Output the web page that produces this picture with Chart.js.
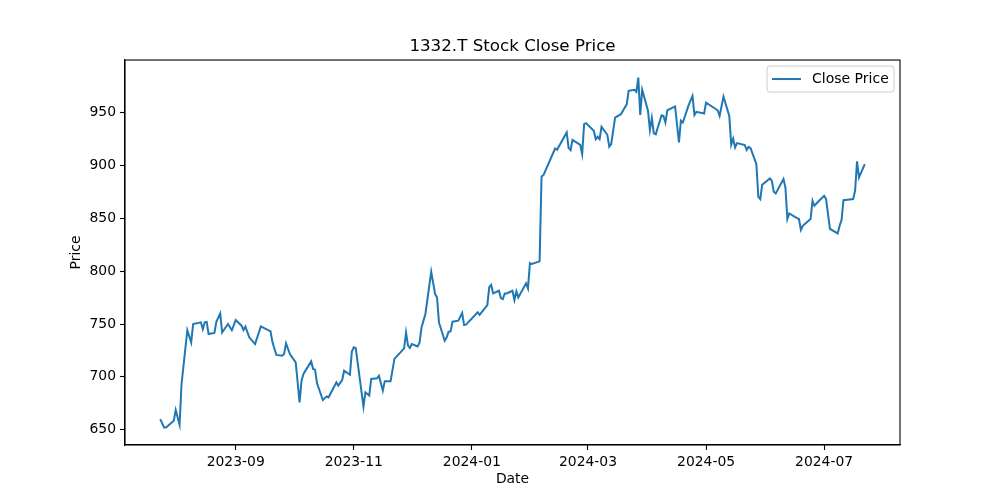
<!DOCTYPE html>
<html>
<head>
<meta charset="utf-8">
<script src="https://cdn.jsdelivr.net/npm/chart.js@4"></script>
<style>
html,body{margin:0;padding:0;background:#fff;}
#wrap{width:1000px;height:500px;}
</style>
</head>
<body>
<div id="wrap"><canvas id="c" width="1000" height="500"></canvas></div>
<script>
const dates = [
'2023-07-24','2023-07-26','2023-07-27','2023-07-31','2023-08-01','2023-08-03','2023-08-04','2023-08-07','2023-08-09','2023-08-10',
'2023-08-14','2023-08-15','2023-08-16','2023-08-17','2023-08-18','2023-08-21','2023-08-22','2023-08-24','2023-08-25','2023-08-28',
'2023-08-30','2023-09-01','2023-09-04','2023-09-05','2023-09-06','2023-09-08','2023-09-11','2023-09-14','2023-09-19','2023-09-20',
'2023-09-22','2023-09-25','2023-09-26','2023-09-27','2023-09-29','2023-10-02','2023-10-04','2023-10-05','2023-10-06','2023-10-10',
'2023-10-11','2023-10-12','2023-10-13','2023-10-16','2023-10-18','2023-10-19','2023-10-23','2023-10-24','2023-10-26','2023-10-27',
'2023-10-30','2023-10-31','2023-11-01','2023-11-02','2023-11-06','2023-11-07','2023-11-09','2023-11-10','2023-11-13','2023-11-14',
'2023-11-16','2023-11-17','2023-11-20','2023-11-22','2023-11-27','2023-11-28','2023-11-29','2023-11-30','2023-12-01','2023-12-04',
'2023-12-05','2023-12-06','2023-12-08','2023-12-11','2023-12-13','2023-12-14','2023-12-15','2023-12-18','2023-12-19','2023-12-20',
'2023-12-21','2023-12-22','2023-12-25','2023-12-27','2023-12-28','2023-12-29','2024-01-04','2024-01-05','2024-01-09','2024-01-10',
'2024-01-11','2024-01-12','2024-01-15','2024-01-16','2024-01-17','2024-01-18','2024-01-19','2024-01-22','2024-01-23','2024-01-24',
'2024-01-25','2024-01-29','2024-01-30','2024-01-31','2024-02-01','2024-02-05','2024-02-06','2024-02-07','2024-02-13','2024-02-14',
'2024-02-19','2024-02-20','2024-02-21','2024-02-22','2024-02-26','2024-02-27','2024-02-28','2024-02-29','2024-03-04','2024-03-05',
'2024-03-06','2024-03-07','2024-03-08','2024-03-11','2024-03-12','2024-03-13','2024-03-15','2024-03-18','2024-03-21','2024-03-22',
'2024-03-25','2024-03-26','2024-03-27','2024-03-28','2024-03-29','2024-04-01','2024-04-02','2024-04-03','2024-04-04','2024-04-05',
'2024-04-08','2024-04-09','2024-04-10','2024-04-11','2024-04-15','2024-04-17','2024-04-18','2024-04-19','2024-04-22','2024-04-24',
'2024-04-25','2024-04-26','2024-04-30','2024-05-01','2024-05-07','2024-05-08','2024-05-10','2024-05-13','2024-05-14','2024-05-15',
'2024-05-16','2024-05-17','2024-05-21','2024-05-22','2024-05-23','2024-05-24','2024-05-27','2024-05-28','2024-05-29','2024-05-30',
'2024-06-03','2024-06-04','2024-06-05','2024-06-06','2024-06-10','2024-06-11','2024-06-12','2024-06-13','2024-06-17','2024-06-18',
'2024-06-19','2024-06-20','2024-06-24','2024-06-25','2024-06-26','2024-06-28','2024-07-01','2024-07-02','2024-07-04','2024-07-08',
'2024-07-09','2024-07-10','2024-07-11','2024-07-12','2024-07-16','2024-07-17','2024-07-18','2024-07-19','2024-07-22'
];
const closePrice = [
660,652,652,658.5,668.6,654.7,693,744,732.6,750,
751.6,745,751.6,752,740.5,741.5,752,760,742,750,
744,753.8,748.4,744.3,747.5,737.4,731,747.8,743,732.6,
720.7,720,721.6,731.7,721.6,713.7,675.8,696.4,702.7,714.6,
707.4,706.8,693.8,678,681.5,680.6,694.8,691.6,697,705.8,
702,724,727.9,727.3,671.8,685.3,682.2,698,698.6,701,
687,695.7,695.7,717,727,742,729.5,727.3,731,728.8,
732.6,746.8,759.5,799.5,778.4,775.2,751.5,734.2,737.3,742.7,
743,752.2,753.2,760.4,749,749.4,761,758.6,768,785,
787,779,781.5,774.6,773.6,779,779,781.5,772.7,781,
775.2,788.5,783.7,807.7,806.8,809.3,889.7,891,916.2,915,
931.4,916.6,914.7,924.4,919.7,910.9,939.3,940.2,933,925,
927.3,925,936.7,929.2,917.8,920.3,945.5,948.7,958,970.8,
971.8,969.9,983.4,948,971.8,951.9,933.6,945,930.6,929.7,
947.7,947,940.8,952.4,956,922,942.5,940.8,957.2,966,
948,950.9,949.3,959.7,952.4,947,965.4,947,919.7,925.6,
917.2,921.3,919.4,914.7,917.8,916.6,901.4,870.5,868.3,881.8,
887.8,885.6,875.2,873.6,887.2,879.3,849.4,854.7,850.3,849.4,
839,843,849.4,866.7,862,866,871.4,868.3,840,835.8,
843,848.4,867.3,867.5,868.3,876.2,904,888.8,901.4
];
const xTickLabels = ['2023-09','2023-11','2024-01','2024-03','2024-05','2024-07'];
const yTickValues = [650,700,750,800,850,900,950];
const seriesLabel = 'Close Price';
const chartTitle = '1332.T Stock Close Price';

const toDay = s => { const p = s.split('-').map(Number); return Date.UTC(p[0], p[1]-1, p[2] || 1) / 864e5; };
const dayToLabel = d => { const dt = new Date(d * 864e5); return dt.getUTCFullYear() + '-' + String(dt.getUTCMonth()+1).padStart(2,'0'); };

const points = dates.map((d, i) => ({x: toDay(d), y: closePrice[i]}));
const xs = points.map(p => p.x), ys = closePrice;
const xLo = Math.min(...xs), xHi = Math.max(...xs), yLo = Math.min(...ys), yHi = Math.max(...ys);
const xM = (xHi - xLo) * 0.05, yM = (yHi - yLo) * 0.05;
const xTickValues = xTickLabels.map(toDay);

const FONT = "'DejaVu Sans', sans-serif";
const LINE = '#1f77b4';

const framePlugin = {
  id: 'frame',
  afterDraw(chart) {
    const {ctx, chartArea: a} = chart;
    ctx.save();
    ctx.strokeStyle = '#000';
    ctx.lineWidth = 1.1;
    ctx.strokeRect(a.left, a.top, a.right - a.left, a.bottom - a.top);
    // legend
    const w = 127, h = 26;
    const lx = a.right - 6 - w, ly = a.top + 6;
    const r = 3;
    ctx.beginPath();
    ctx.moveTo(lx + r, ly);
    ctx.lineTo(lx + w - r, ly); ctx.quadraticCurveTo(lx + w, ly, lx + w, ly + r);
    ctx.lineTo(lx + w, ly + h - r); ctx.quadraticCurveTo(lx + w, ly + h, lx + w - r, ly + h);
    ctx.lineTo(lx + r, ly + h); ctx.quadraticCurveTo(lx, ly + h, lx, ly + h - r);
    ctx.lineTo(lx, ly + r); ctx.quadraticCurveTo(lx, ly, lx + r, ly);
    ctx.closePath();
    ctx.fillStyle = 'rgba(255,255,255,0.8)';
    ctx.fill();
    ctx.strokeStyle = '#cccccc';
    ctx.lineWidth = 1;
    ctx.stroke();
    ctx.beginPath();
    ctx.strokeStyle = LINE;
    ctx.lineWidth = 2;
    ctx.moveTo(lx + 5, ly + 13);
    ctx.lineTo(lx + 34, ly + 13);
    ctx.stroke();
    ctx.fillStyle = '#000';
    ctx.font = '14px ' + FONT;
    ctx.textBaseline = 'middle';
    ctx.textAlign = 'left';
    ctx.fillText(seriesLabel, lx + 45, ly + 13);
    ctx.restore();
  }
};

new Chart(document.getElementById('c'), {
  type: 'line',
  data: {
    datasets: [{
      label: seriesLabel,
      data: points,
      borderColor: LINE,
      backgroundColor: LINE,
      borderWidth: 2,
      pointRadius: 0,
      tension: 0,
      fill: false
    }]
  },
  options: {
    responsive: false,
    animation: false,
    events: [],
    layout: { padding: { left: 0, right: 100, top: 0, bottom: 0 }, autoPadding: false },
    plugins: {
      legend: { display: false },
      tooltip: { enabled: false },
      title: {
        display: true,
        text: chartTitle,
        fullSize: false,
        color: '#000',
        font: { family: FONT, size: 16.7, weight: 'normal' },
        padding: { top: 37, bottom: 3 }
      }
    },
    scales: {
      x: {
        type: 'linear',
        min: xLo - xM,
        max: xHi + xM,
        afterFit(s) { s.height = 55; },
        afterBuildTicks(s) { s.ticks = xTickValues.map(v => ({value: v})); },
        ticks: {
          color: '#000',
          font: { family: FONT, size: 13.9 },
          padding: 4,
          maxRotation: 0,
          autoSkip: false,
          callback: v => dayToLabel(v)
        },
        grid: { display: true, drawOnChartArea: false, drawTicks: true, tickLength: 5, tickColor: '#000', tickWidth: 1.1 },
        border: { display: true, color: '#000', width: 1.1 },
        title: { display: true, text: 'Date', color: '#000', font: { family: FONT, size: 13.9 }, padding: { top: 0, bottom: 12 } }
      },
      y: {
        type: 'linear',
        min: yLo - yM,
        max: yHi + yM,
        afterFit(s) { s.width = 125; },
        afterBuildTicks(s) { s.ticks = yTickValues.map(v => ({value: v})); },
        ticks: {
          color: '#000',
          font: { family: FONT, size: 13.9 },
          padding: 4,
          callback: v => String(v)
        },
        grid: { display: true, drawOnChartArea: false, drawTicks: true, tickLength: 5, tickColor: '#000', tickWidth: 1.1 },
        border: { display: true, color: '#000', width: 1.1 },
        title: { display: true, text: 'Price', color: '#000', font: { family: FONT, size: 13.9 }, padding: { top: 68, bottom: 0 } }
      }
    }
  },
  plugins: [framePlugin]
});
</script>
</body>
</html>
